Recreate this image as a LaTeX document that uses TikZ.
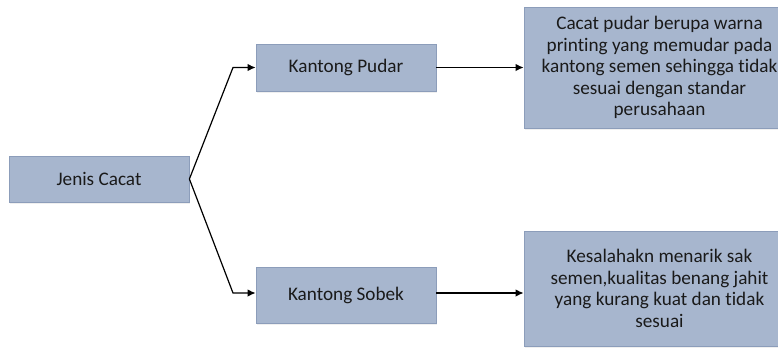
\documentclass[tikz,border=0pt]{standalone}
\usepackage{fontspec}
\setmainfont[RawFeature={-liga;-dlig;-clig}]{Carlito}
\usetikzlibrary{arrows.meta,shadows}
\definecolor{boxfill}{HTML}{A7B6CE}
\definecolor{boxline}{HTML}{8C9DBA}
\definecolor{txt}{HTML}{1A1A1A}
\tikzset{
  box/.style={draw=boxline, line width=0.8pt, fill=boxfill, text=txt, align=center,
    inner sep=0pt, font=\fontsize{19.2}{21.5}\selectfont,
    drop shadow={opacity=0.12, shadow xshift=1pt, shadow yshift=-2pt}},
  conn/.style={line width=1.2pt, -{Latex[length=8pt,width=7.5pt]}}
}
\begin{document}
\begin{tikzpicture}[x=1pt,y=-1pt]
\clip (0,0) rectangle (778,349);
\fill[white] (0,0) rectangle (778,349);
\node[box, minimum width=180pt, minimum height=46pt] (jenis) at (99,179) {Jenis Cacat};
\node[box, minimum width=180pt, minimum height=47pt] (pudar) at (346,67.5) {Kantong Pudar};
\node[box, minimum width=180pt, minimum height=56pt] (sobek) at (346,295) {Kantong Sobek};
\node[box, minimum width=271pt, minimum height=121pt] (desc1) at (659.5,67.5)
  {Cacat pudar berupa warna\\printing yang memudar pada\\kantong semen sehingga tidak\\sesuai dengan standar\\perusahaan};
\node[box, minimum width=271pt, minimum height=115pt] (desc2) at (659.5,288.5)
  {Kesalahakn menarik sak\\semen,kualitas benang jahit\\yang kurang kuat dan tidak\\sesuai};
\coordinate (e1) at (233,67.5);
\coordinate (e2) at (233,293);
\draw[conn] (jenis.east) -- (e1) -- (pudar.west);
\draw[conn] (jenis.east) -- (e2) -- (sobek.west |- e2);
\draw[conn] (pudar.east) -- (desc1.west |- pudar.east);
\draw[conn] (sobek.east |- e2) -- (desc2.west |- e2);
\end{tikzpicture}
\end{document}
